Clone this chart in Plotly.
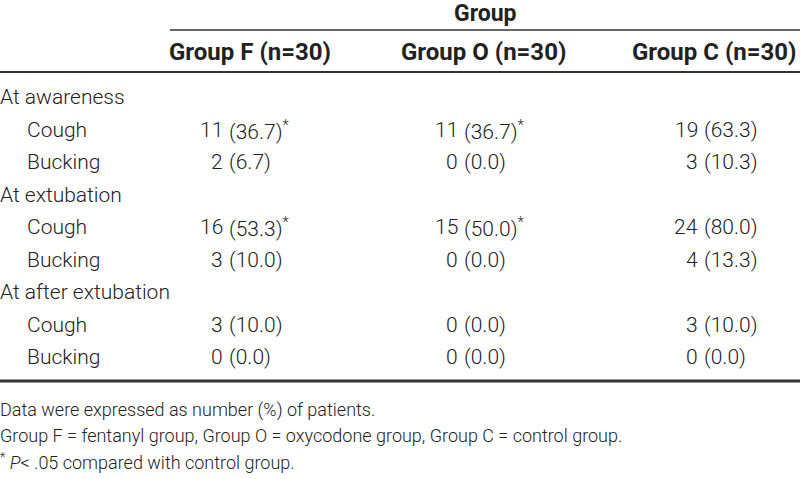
import plotly.graph_objects as go

# ---- data ----
group_title = "Group"
groups = ["Group F (n=30)", "Group O (n=30)", "Group C (n=30)"]
sections = ["At awareness", "At extubation", "At after extubation"]
measures = ["Cough", "Bucking"]
counts_F = [11, 2, 16, 3, 3, 0]
pct_F = [36.7, 6.7, 53.3, 10.0, 10.0, 0.0]
sig_F = [True, False, True, False, False, False]
counts_O = [11, 0, 15, 0, 0, 0]
pct_O = [36.7, 0.0, 50.0, 0.0, 0.0, 0.0]
sig_O = [True, False, True, False, False, False]
counts_C = [19, 3, 24, 4, 3, 0]
pct_C = [63.3, 10.3, 80.0, 13.3, 10.0, 0.0]
sig_C = [False, False, False, False, False, False]
footnotes = [
    "Data were expressed as number (%) of patients.",
    "Group F = fentanyl group, Group O = oxycodone group, Group C = control group.",
    "<sup>*</sup> <i>P</i>&lt; .05 compared with control group.",
]

# ---- layout constants ----
W, H = 800, 479
FONT = "Roboto, Liberation Sans, Arial, sans-serif"
TXT = "#222222"
SIZE = 21
header_cx = [250, 483, 714]
count_right = [223, 458, 698]
pct_left = [229, 464, 704]
row_y0, row_dy = 97, 32.5

fig = go.Figure()
fig.add_trace(go.Scatter(x=[0, W], y=[0, H], mode="markers",
                         marker=dict(opacity=0), hoverinfo="skip", showlegend=False))

ann = []
def A(x, y, text, anchor="left", size=SIZE, bold=False):
    ann.append(dict(x=x, y=y, xref="x", yref="y", text=text, showarrow=False,
                    xanchor=anchor, yanchor="middle", borderpad=0, borderwidth=0,
                    font=dict(family=FONT, size=size, color=TXT,
                              weight=700 if bold else 300)))

# headers
A(485, 13, group_title, "center", size=23, bold=True)
for cx, g in zip(header_cx, groups):
    A(cx, 52, g, "center", size=24, bold=True)

# rows
cols = [(counts_F, pct_F, sig_F), (counts_O, pct_O, sig_O), (counts_C, pct_C, sig_C)]
r = 0
k = 0
for s in sections:
    A(0, row_y0 + r * row_dy, s)
    r += 1
    for m in measures:
        y = row_y0 + r * row_dy
        A(27, y, m)
        for ci, (cnt, pct, sig) in enumerate(cols):
            A(count_right[ci], y, str(cnt[k]), "right")
            t = "(%.1f)" % pct[k]
            if sig[k]:
                t += "<sup>*</sup>"
            A(pct_left[ci], y, t, "left")
        r += 1
        k += 1

# footnotes
for i, f in enumerate(footnotes):
    A(0, 410 + i * 25.5, f, size=18)

shapes = [
    dict(type="line", x0=170, x1=W, y0=30, y1=30, xref="x", yref="y",
         line=dict(color="#333", width=1.5)),
    dict(type="line", x0=0, x1=W, y0=72, y1=72, xref="x", yref="y",
         line=dict(color="#333", width=2)),
    dict(type="line", x0=0, x1=W, y0=381, y1=381, xref="x", yref="y",
         line=dict(color="#333", width=3)),
]

fig.update_layout(
    width=W, height=H, margin=dict(l=0, r=0, t=0, b=0),
    paper_bgcolor="white", plot_bgcolor="white",
    xaxis=dict(range=[0, W], visible=False, fixedrange=True),
    yaxis=dict(range=[H, 0], visible=False, fixedrange=True),
    annotations=ann, shapes=shapes,
)
fig.write_html("out.html", config={"displayModeBar": False},
               post_script="document.body.style.margin='0';")
